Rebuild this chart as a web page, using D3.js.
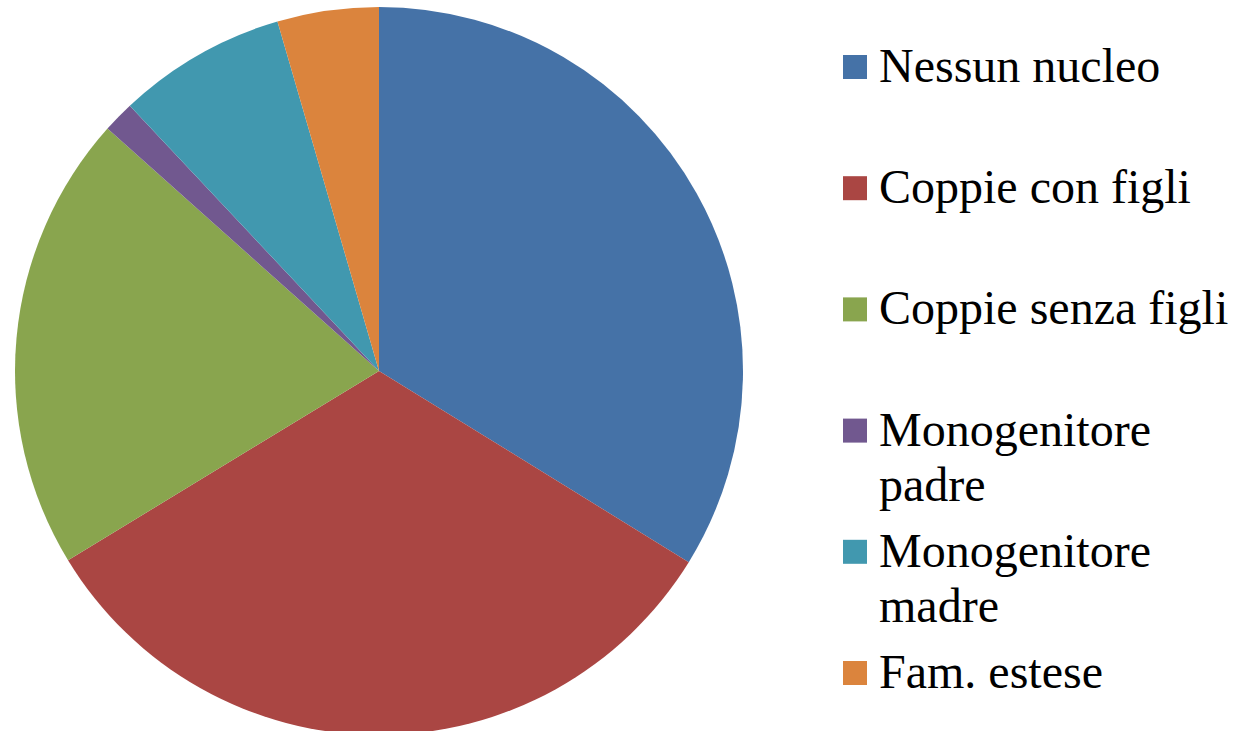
<!DOCTYPE html>
<html>
<head>
<meta charset="utf-8">
<script src="https://cdn.jsdelivr.net/npm/d3@7"></script>
<style>
  body { margin: 0; background: #fff; }
  svg { display: block; }
</style>
</head>
<body>
<div id="chart"></div>
<script>
const categories = ['Nessun nucleo', 'Coppie con figli', 'Coppie senza figli', 'Monogenitore padre', 'Monogenitore madre', 'Fam. estese']
const legendLines = [['Nessun nucleo'], ['Coppie con figli'], ['Coppie senza figli'], ['Monogenitore', 'padre'], ['Monogenitore', 'madre'], ['Fam. estese']]
const values = [33.8, 32.5, 20.3, 1.4, 7.5, 4.5]
const colors = ['#4572A7', '#AA4643', '#89A54E', '#71588F', '#4198AF', '#DB843D']

const width = 1241, height = 731
const cx = 379, cy = 371, radius = 364

let svg = d3.select('#chart')
            .append('svg')
            .attr('width', width)
            .attr('height', height)

let color = d3.scaleOrdinal()
              .domain(categories)
              .range(colors)

let pie = d3.pie()
            .value(d => d.value)
            .sort(null)

let arc = d3.arc()
            .innerRadius(0)
            .outerRadius(radius)

let data = categories.map((c, i) => ({ name: c, value: values[i] }))

svg.append('g')
  .attr('transform', `translate(${cx}, ${cy})`)
  .selectAll('path')
  .data(pie(data))
  .enter()
  .append('path')
  .attr('d', arc)
  .attr('fill', d => color(d.data.name))

// legend
let legendY = d3.scaleLinear()
                .domain([0, categories.length - 1])
                .range([82, 688])

let legend = svg.append('g')
  .selectAll('g')
  .data(categories)
  .enter()
  .append('g')
  .attr('transform', (d, i) => `translate(843, ${legendY(i)})`)

legend.append('rect')
  .attr('x', 0)
  .attr('y', -27)
  .attr('width', 24)
  .attr('height', 24)
  .attr('fill', d => color(d))

legend.append('text')
  .attr('x', 36)
  .attr('y', 0)
  .style('font-family', '"Liberation Serif", "Times New Roman", serif')
  .style('font-size', '48px')
  .style('fill', '#000')
  .each(function (d, i) {
    d3.select(this).selectAll('tspan')
      .data(legendLines[i])
      .enter()
      .append('tspan')
      .attr('x', 36)
      .attr('dy', (t, j) => j === 0 ? 0 : 55)
      .text(t => t)
  })
</script>
</body>
</html>
